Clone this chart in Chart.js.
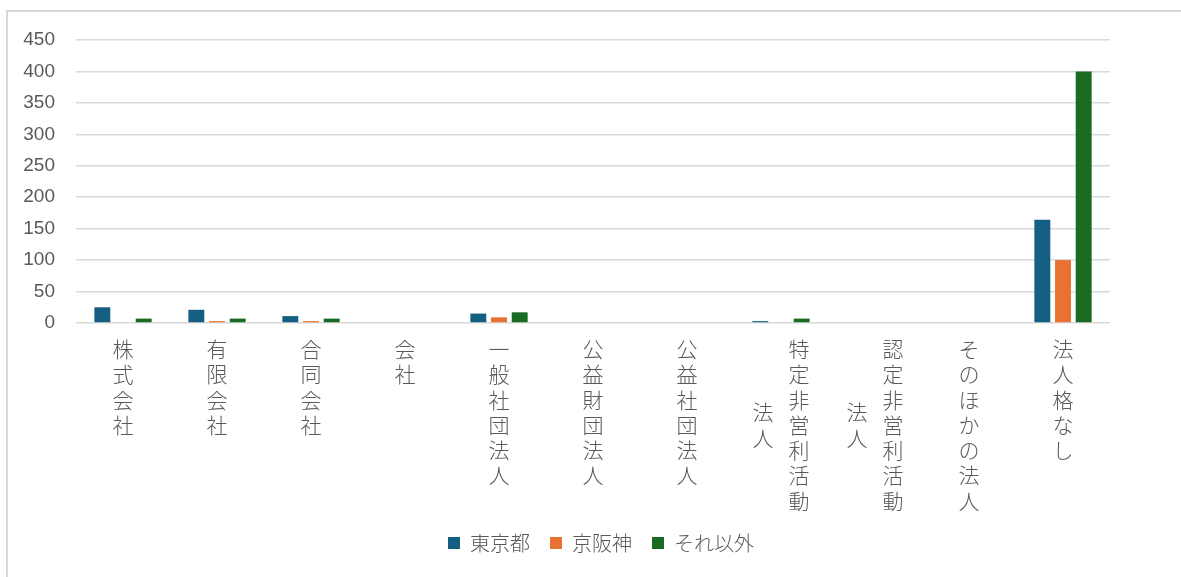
<!DOCTYPE html>
<html lang="ja">
<head>
<meta charset="utf-8">
<title>法人格別</title>
<script src="https://cdn.jsdelivr.net/npm/chart.js@4.4.1/dist/chart.umd.min.js"></script>
<style>
  html, body { margin: 0; padding: 0; background: #fff; overflow: hidden; }
  #wrap { position: relative; width: 1181px; height: 577px; }
  #frame {
    position: absolute; left: 6px; top: 10px; width: 1300px; height: 700px;
    border-top: 2px solid #d9d9d9; border-left: 2px solid #d9d9d9;
  }
  #chart { position: absolute; left: 0; top: 0; }
</style>
</head>
<body>
<div id="wrap">
  <div id="frame"></div>
  <canvas id="chart" width="1181" height="577"></canvas>
</div>
<script>
// カテゴリ（法人格）
const categories = [
  '株式会社', '有限会社', '合同会社', '会社', '一般社団法人', '公益財団法人',
  '公益社団法人', '特定非営利活動法人', '認定非営利活動法人', 'そのほかの法人', '法人格なし'
];

// 系列
const seriesNames = ['東京都', '京阪神', 'それ以外'];
const tokyo =  [25, 21, 11, 0, 15, 0, 0, 3, 0, 0, 164];
const keihanshin = [0, 3, 3, 0, 9, 0, 0, 0, 0, 0, 100];
const others = [7, 7, 7, 0, 17, 0, 0, 7, 0, 0, 400];

// 目盛り
const yTicks = [0, 50, 100, 150, 200, 250, 300, 350, 400, 450];

const colors = ['#156082', '#E97132', '#196B24'];
const textColor = '#595959';
const gridColor = '#d9d9d9';

// 縦書きラベル（7文字で折り返し、右から左へ）
const verticalLabels = {
  id: 'verticalLabels',
  afterLayout(chart) {
    // 凡例はグラフ枠全体の中央に置く
    chart.legend.left = 7;
    chart.legend.right = 1195;
  },
  afterDraw(chart) {
    const ctx = chart.ctx;
    const x = chart.scales.x;
    const top = chart.chartArea.bottom + 26;
    const rowH = 25.3;
    const colW = 36;
    ctx.save();
    ctx.font = '300 21px "Noto Sans CJK JP"';
    ctx.fillStyle = textColor;
    ctx.textAlign = 'center';
    ctx.textBaseline = 'middle';
    categories.forEach((label, i) => {
      const chars = Array.from(label);
      const cols = [];
      for (let k = 0; k < chars.length; k += 7) cols.push(chars.slice(k, k + 7));
      const maxLen = Math.max(...cols.map(c => c.length));
      const cx = x.getPixelForValue(i);
      cols.forEach((col, k) => {
        const colX = cx + (cols.length - 1) / 2 * colW - k * colW;
        const offset = cols.length > 1 ? (maxLen - col.length) / 2 * rowH : 0;
        col.forEach((ch, r) => {
          ctx.fillText(ch, colX, top + offset + r * rowH);
        });
      });
    });
    ctx.restore();
  }
};

const ctx = document.getElementById('chart').getContext('2d');
new Chart(ctx, {
  type: 'bar',
  data: {
    labels: categories,
    datasets: [tokyo, keihanshin, others].map((d, i) => ({
      label: seriesNames[i],
      data: d,
      backgroundColor: colors[i],
      borderWidth: 0,
      categoryPercentage: 0.66,
      barPercentage: 0.77
    }))
  },
  options: {
    responsive: false,
    animation: false,
    layout: { padding: { left: 0, right: 71, top: 40, bottom: 14 } },
    plugins: {
      tooltip: { enabled: false },
      legend: {
        position: 'bottom',
        labels: {
          boxWidth: 12,
          boxHeight: 12,
          padding: 20,
          color: textColor,
          font: { family: '"Noto Sans CJK JP"', size: 20, weight: 300 }
        }
      }
    },
    scales: {
      x: {
        grid: { display: false },
        border: { display: false },
        ticks: { display: false },
        afterFit(scale) { scale.height = 190; }
      },
      y: {
        min: 0,
        max: 450,
        afterBuildTicks(scale) { scale.ticks = yTicks.map(v => ({ value: v })); },
        afterFit(scale) { scale.width = 76; },
        grid: { color: gridColor, lineWidth: 1.5, drawTicks: false },
        border: { display: false },
        ticks: {
          padding: 21,
          color: textColor,
          font: { family: '"Liberation Sans", Arial, sans-serif', size: 19 }
        }
      }
    }
  },
  plugins: [verticalLabels]
});
</script>
</body>
</html>
